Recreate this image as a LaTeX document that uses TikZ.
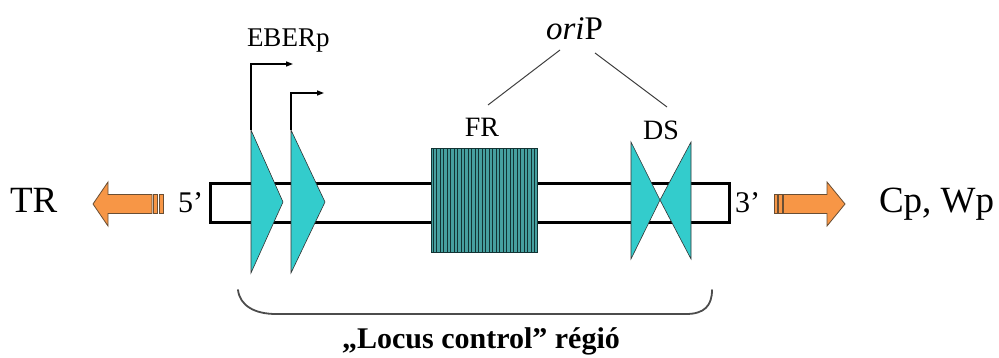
\documentclass[tikz,border=0pt]{standalone}
\usepackage{fontspec}
\setmainfont{Liberation Serif}
\usetikzlibrary{arrows.meta}
\definecolor{cyanfill}{RGB}{51,204,204}
\definecolor{frfill}{RGB}{70,160,160}
\definecolor{frline}{RGB}{18,52,52}
\definecolor{orangefill}{RGB}{247,150,70}
\definecolor{orangeline}{RGB}{105,78,52}
\begin{document}
\begin{tikzpicture}[x=1pt,y=-1pt,
  lbl/.style={inner sep=0pt,outer sep=0pt},
  band/.style={line width=3pt,draw=black},
  wedge/.style={fill=cyanfill,draw=black!80,line width=0.6pt,line join=miter},
  fatarrow/.style={fill=orangefill,draw=orangeline,line width=0.8pt,line join=miter},
  prom/.style={line width=1.3pt,-{Triangle[length=7pt,width=5pt]}},
  link/.style={line width=1pt,draw=black!75},
  brace/.style={line width=1.8pt,draw=black!70,line cap=round}]
\useasboundingbox (0,0) rectangle (999,358);

% DNA band
\draw[band] (210,184) rectangle (729,223);

% FR repeat block
\fill[frfill] (431,149) rectangle (537,253);
\foreach \i in {0,...,29}
  \fill[frline] ({432.6+\i*3.5},149) rectangle ++(0.95,104);
\draw[frline,line width=1pt] (431,149) rectangle (537,253);

% EBER promoters
\coordinate (p1) at (251,130);
\coordinate (p2) at (291,130);
\draw[wedge] (p1) -- (251,273) -- (283,202) -- cycle;
\draw[wedge] (p2) -- (291,273) -- (325,202) -- cycle;
\coordinate (t1) at (293,64);
\coordinate (t2) at (324,93);
\draw[prom] (p1) |- (t1);
\draw[prom] (p2) |- (t2);

% DS dyad
\draw[wedge] (631,142) -- (631,259) -- (660,200) -- cycle;
\draw[wedge] (691,142) -- (691,259) -- (660,200) -- cycle;

% orange direction arrows
\draw[fatarrow] (159,194.5) rectangle (163,213.5);
\draw[fatarrow] (153.5,194.5) rectangle (157.5,213.5);
\draw[fatarrow] (152,194.5) -- (108,194.5) -- (108,182) -- (93,204)
  -- (108,226) -- (108,213.5) -- (152,213.5) -- cycle;
\draw[fatarrow] (774,194.5) rectangle (777,213.5);
\draw[fatarrow] (778.5,194.5) rectangle (782,213.5);
\draw[fatarrow] (783.5,194.5) -- (827,194.5) -- (827,182) -- (845,204)
  -- (827,226) -- (827,213.5) -- (783.5,213.5) -- cycle;

% labels
\node[lbl,anchor=base west,font=\fontsize{37}{40}\selectfont] (tr) at (10,213) {TR};
\node[lbl,anchor=base west,font=\fontsize{30}{34}\selectfont] (five) at (178,213) {5’};
\node[lbl,anchor=base west,font=\fontsize{30}{34}\selectfont] (three) at (735,213) {3’};
\node[lbl,anchor=base west,font=\fontsize{37}{40}\selectfont] (cpwp) at (879,213) {Cp, Wp};
\node[lbl,anchor=base west,font=\fontsize{27}{30}\selectfont] (eber) at (247,47) {EBERp};
\node[lbl,anchor=base,font=\fontsize{28}{32}\selectfont] (fr) at (482,137) {FR};
\node[lbl,anchor=base,font=\fontsize{28}{32}\selectfont] (ds) at (661,140) {DS};
\node[lbl,anchor=base west,font=\fontsize{33}{36}\selectfont] (orip) at (546,40) {\textit{ori}P};
\node[lbl,anchor=base,font=\fontsize{30}{34}\selectfont\bfseries] (lcr) at (481,348) {„Locus control” régió};

% oriP components
\coordinate (oa) at (560,50);
\coordinate (ob) at (595,53);
\coordinate (fa) at (488,105);
\coordinate (da) at (667,107);
\draw[link] (oa) -- (fa);
\draw[link] (ob) -- (da);

% locus control region brace
\draw[brace] (238,290) .. controls (240,306) and (255,314) .. (276,314)
  -- (686,314) .. controls (704,314) and (712,306) .. (712,290);
\end{tikzpicture}
\end{document}
